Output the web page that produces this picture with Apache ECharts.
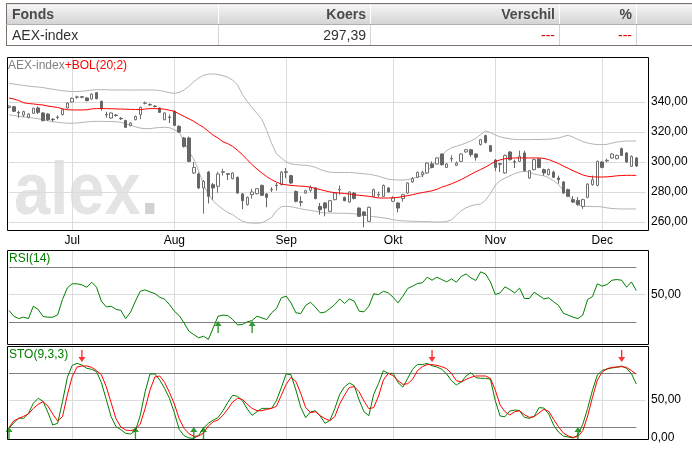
<!DOCTYPE html>
<html>
<head>
<meta charset="utf-8">
<title>AEX-index</title>
<script src="https://cdn.jsdelivr.net/npm/echarts@6/dist/echarts.min.js"></script>
<style>
  html, body { margin: 0; padding: 0; width: 692px; height: 450px; overflow: hidden; background: #fff; }
  #chart { position: absolute; left: 0; top: 0; width: 692px; height: 450px; }
  #koers { position: absolute; left: 6px; top: 3px; width: 740px; border-collapse: collapse; table-layout: fixed;
           font-family: 'Liberation Sans Narrow', 'Liberation Sans', Arial, sans-serif; font-size: 14px; z-index: 2; }
  #koers th, #koers td { height: 20px; padding: 0 4px; text-align: right; white-space: nowrap; overflow: hidden; }
  #koers th { background: linear-gradient(#f6f6f6, #d3d3d3); color: #4a4a4a; font-weight: bold;
              border-left: 1px solid #fff; border-top: 1px solid #7d726b; border-bottom: 1px solid #b5aea9; }
  #koers td { color: #333; border-left: 1px solid #d4d4d4; border-bottom: 1px solid #7d726b; }
  #koers .l { text-align: left; padding-left: 5px; border-left: 1px solid #7d726b; }
  #koers .red { color: #e00000; }
</style>
</head>
<body>
<div id="chart"></div>
<table id="koers">
  <colgroup><col style="width:212px"><col style="width:152px"><col style="width:189px"><col style="width:77px"><col style="width:110px"></colgroup>
  <tr><th class="l">Fonds</th><th>Koers</th><th>Verschil</th><th>%</th><th></th></tr>
  <tr><td class="l">AEX-index</td><td>297,39</td><td class="red">---</td><td class="red">---</td><td></td></tr>
</table>
<script>
// handelsdagen 14 jun 2011 t/m 12 dec 2011 (geen beursfeestdagen in die periode)
const dates = [];
for (let d = new Date(Date.UTC(2011, 5, 14)); d <= new Date(Date.UTC(2011, 11, 12)); d.setUTCDate(d.getUTCDate() + 1)) {
  const wd = d.getUTCDay();
  if (wd !== 0 && wd !== 6) dates.push(d.toISOString().slice(0, 10));
}
const monthNames = ['Jan','Feb','Mrt','Apr','Mei','Jun','Jul','Aug','Sep','Okt','Nov','Dec'];

const open = [336.3,336.9,333.1,331.3,329.8,332.5,336.0,332.7,332.0,328.5,
  329.6,331.6,336.0,340.0,343.1,343.5,342.7,342.0,346.2,340.4,
  331.8,329.3,331.3,329.1,327.6,324.2,328.2,331.6,339.1,338.4,
  337.3,336.0,328.2,330.0,333.8,323.8,316.0,316.0,292.7,292.0,
  282.7,293.3,284.9,283.8,293.1,292.2,288.9,289.8,278.7,271.6,
  278.2,278.9,284.4,278.7,281.4,284.2,284.9,293.5,290.9,280.4,
  273.5,279.3,281.1,282.7,270.4,272.7,267.1,274.9,281.4,276.4,
  273.3,279.3,269.3,266.7,260.4,277.1,278.0,277.1,282.7,273.8,
  272.7,275.6,279.3,286.7,289.8,291.6,292.7,298.7,298.7,305.3,
  296.4,302.0,297.8,300.4,306.7,308.2,305.3,311.6,317.6,310.9,
  301.3,298.9,292.7,306.7,300.2,300.4,306.0,289.3,294.9,302.0,
  294.9,291.6,293.3,289.3,286.7,281.6,274.9,274.4,270.4,276.4,
  284.9,284.4,300.0,300.7,302.7,302.2,308.9,306.0,297.1,302.7];
const close = [337.3,333.8,332.7,333.6,332.0,335.8,333.1,327.6,328.2,328.2,
  330.0,334.9,339.3,342.4,343.4,343.2,340.9,345.3,342.2,335.6,
  331.5,332.7,331.0,328.8,323.1,326.0,330.4,336.4,339.4,338.1,
  337.0,333.1,332.7,329.7,324.4,320.0,310.4,300.4,296.4,282.7,
  287.1,277.1,282.7,292.0,293.5,291.8,292.7,279.3,274.2,276.4,
  280.0,282.2,277.8,276.4,281.8,284.6,293.3,293.1,286.0,273.8,
  273.1,280.9,283.1,275.6,268.2,269.3,274.2,279.3,281.8,274.2,
  280.0,275.6,263.8,264.4,269.8,281.6,278.4,284.4,280.0,276.0,
  269.3,278.2,286.0,288.9,293.1,293.1,299.3,296.4,302.7,298.2,
  298.7,302.4,299.3,305.3,308.2,304.9,303.1,314.9,313.1,307.1,
  296.4,298.5,304.4,301.6,299.8,303.8,294.2,294.2,301.6,296.4,
  292.7,294.9,289.8,288.2,279.3,277.1,273.3,271.6,274.9,285.3,
  288.2,300.4,296.4,301.1,305.3,304.4,304.4,300.0,303.8,297.39];
const low = [335.8,333.3,329.5,330.0,329.0,332.0,332.0,327.0,327.4,327.0,
  328.4,331.0,335.6,339.6,342.2,342.5,340.4,341.6,341.8,334.3,
  329.6,328.9,330.2,328.0,322.7,323.8,327.8,328.5,338.4,337.4,
  336.4,332.7,327.8,326.0,324.0,319.3,309.6,299.8,292.0,282.0,
  265.6,272.4,274.9,279.5,291.0,288.0,288.4,278.9,268.5,271.0,
  275.6,278.4,277.3,269.8,280.0,280.9,284.4,289.3,285.5,273.1,
  270.4,278.8,279.8,275.1,264.9,263.8,266.6,274.4,278.2,273.8,
  272.9,275.1,263.3,256.4,260.0,276.6,276.4,276.6,279.5,273.3,
  266.4,273.5,278.8,286.2,289.3,289.8,292.2,295.8,298.2,297.6,
  296.0,300.0,297.3,300.0,306.2,303.5,300.9,311.0,312.4,306.6,
  294.0,293.3,292.2,301.0,296.0,300.0,293.6,288.9,294.4,295.8,
  290.9,291.0,289.3,285.6,278.8,276.6,272.7,270.8,268.7,275.8,
  284.2,283.8,295.8,299.8,302.2,301.8,304.0,299.5,296.7,296.7];
const high = [337.8,337.4,334.2,334.2,332.5,336.2,337.1,333.2,332.5,329.3,
  331.0,335.3,339.8,343.0,344.2,344.0,343.2,345.8,346.7,341.0,
  333.5,333.1,332.0,330.0,328.2,326.5,331.0,337.0,340.3,339.0,
  338.0,336.4,333.1,331.6,334.4,324.4,316.7,317.0,300.0,293.0,
  288.0,294.0,286.0,293.5,295.5,292.6,293.3,290.3,279.3,277.0,
  282.2,282.7,285.0,279.2,283.3,286.0,294.0,296.0,291.5,281.0,
  277.1,281.4,284.4,283.3,272.7,273.3,274.7,279.8,284.4,276.9,
  280.6,280.0,269.8,267.2,270.3,282.2,280.2,285.0,283.2,277.1,
  273.2,278.7,286.5,290.0,293.6,294.2,299.8,300.4,303.2,305.8,
  299.3,304.4,300.4,305.8,308.7,308.7,305.8,315.4,318.2,311.4,
  302.0,299.3,305.0,307.3,301.6,307.6,307.6,294.7,302.2,302.6,
  295.6,295.6,294.2,290.9,287.3,282.2,277.3,276.6,275.5,285.8,
  291.0,301.0,300.6,302.2,306.0,304.9,309.6,306.7,304.4,303.2];

const bolMid = [342.7,342.0,341.0,339.5,339.0,338.7,338.3,338.0,337.3,336.8,
  336.4,335.5,334.8,334.7,334.7,334.7,334.8,335.4,335.6,335.6,
  335.6,335.5,335.4,335.3,335.2,335.1,335.0,334.9,335.3,335.6,
  335.6,335.5,335.2,334.5,333.8,332.0,330.4,328.8,327.1,325.0,
  323.1,320.5,317.8,316.0,313.5,312.2,310.4,307.8,304.9,301.5,
  298.2,295.3,292.7,290.3,288.2,286.6,285.3,284.8,284.4,284.1,
  283.9,283.7,283.2,282.4,281.6,280.8,280.0,279.6,279.3,279.0,
  278.7,278.2,277.8,277.5,277.1,276.6,276.0,276.0,276.0,276.1,
  276.4,277.0,277.6,278.2,279.0,279.6,280.2,280.8,281.8,283.2,
  284.3,285.5,286.8,288.3,290.0,291.8,293.5,295.0,296.6,298.5,
  300.4,301.4,302.2,302.5,302.7,302.7,302.7,302.7,302.7,302.7,
  302.4,301.6,300.3,299.0,297.3,295.8,294.2,292.8,291.4,290.5,
  290.1,290.0,290.0,290.1,290.4,290.8,291.0,291.1,291.1,291.1];
const bolUp = [352.4,352.0,351.5,351.0,350.6,350.2,350.0,349.6,349.0,348.5,
  348.0,347.5,347.2,347.0,347.0,347.2,347.5,348.0,348.2,348.2,
  348.2,348.0,348.0,348.0,348.0,348.0,348.0,348.0,348.0,348.0,
  348.0,347.6,347.0,346.2,345.8,346.5,348.0,350.5,353.5,356.0,
  357.8,358.6,358.7,358.3,357.5,356.5,354.5,351.5,345.0,340.3,
  336.3,332.4,328.5,321.0,312.5,305.5,302.7,300.0,298.7,298.3,
  298.0,297.8,297.3,296.5,295.0,294.0,293.2,293.0,293.0,293.0,
  293.0,292.8,292.5,292.2,291.8,291.3,290.5,289.5,288.5,288.2,
  288.0,288.0,288.3,289.0,290.0,290.8,293.5,297.5,301.5,304.5,
  307.5,309.5,310.5,311.5,312.7,314.0,315.8,318.3,320.8,319.6,
  318.0,316.8,316.0,315.5,315.0,314.9,314.9,314.9,315.0,315.0,
  315.1,315.2,315.6,316.0,317.0,317.8,316.6,315.0,313.6,312.7,
  312.0,311.6,311.6,311.8,312.6,313.3,313.7,314.0,314.0,314.0];
const bolLow = [331.5,331.0,330.5,330.0,329.8,329.3,328.8,328.3,327.5,326.9,
  326.5,326.1,325.9,325.8,326.0,326.3,326.7,327.0,327.1,327.1,
  327.0,327.0,326.8,326.5,325.5,324.5,323.5,322.6,322.2,322.3,
  322.7,323.0,323.1,322.9,321.5,320.0,313.5,307.0,302.0,294.0,
  285.0,278.5,274.0,271.0,268.5,266.3,265.0,262.5,260.5,259.5,
  259.3,259.2,259.5,261.0,263.0,267.5,270.2,270.5,270.2,269.5,
  268.8,268.2,267.7,267.2,266.5,266.0,266.0,265.9,265.8,265.8,
  265.7,265.5,265.0,264.6,264.0,263.6,263.2,262.7,262.3,261.5,
  261.0,260.8,260.6,260.5,260.4,260.3,260.2,260.1,260.0,260.0,
  260.3,261.5,264.5,267.5,269.5,270.8,271.5,272.0,274.5,279.0,
  284.5,287.5,289.3,290.8,292.3,293.3,293.8,293.2,292.0,291.3,
  290.8,289.5,287.5,285.0,281.0,278.0,274.0,271.5,270.5,270.4,
  270.3,270.3,270.0,269.4,269.0,268.8,268.7,268.7,268.7,268.7];

const rsi = [38.4,34.2,32.5,33.5,32.5,41.5,39.1,34.0,33.5,33.5,
  35.2,46.4,54.8,57.8,57.8,57.0,55.3,59.0,55.3,45.2,
  41.0,41.5,39.3,38.4,32.5,37.2,45.2,52.4,53.4,51.9,
  50.7,48.0,46.6,42.7,37.9,34.7,29.4,23.3,20.9,18.5,
  19.7,17.3,25.8,34.2,35.0,34.7,31.8,27.9,28.2,30.1,
  31.1,34.2,33.0,31.8,36.7,39.8,47.6,48.8,43.9,36.7,
  36.2,42.0,44.4,40.8,36.7,37.2,39.8,42.7,46.8,43.5,
  46.8,45.2,37.9,37.4,41.5,50.5,50.0,52.4,51.2,48.0,
  43.9,48.8,54.4,56.1,58.0,58.5,62.6,60.4,62.6,60.9,
  59.2,61.4,59.0,63.1,65.0,62.1,60.2,66.5,65.0,59.2,
  50.0,51.2,55.6,53.6,51.2,54.6,47.1,47.1,51.7,49.3,
  46.8,47.6,44.7,42.2,36.4,35.0,33.5,32.5,35.0,46.4,
  48.5,57.8,56.1,57.3,60.4,60.9,60.4,55.3,59.2,52.9];

const stoK = [18.5,24.8,30.0,29.6,35.2,46.3,51.9,48.5,36.3,22.2,
  24.1,48.1,75.2,88.5,90.7,88.9,85.2,84.1,81.5,69.3,
  50.7,31.5,20.4,17.0,13.0,12.2,15.9,33.0,59.3,78.9,
  78.9,72.2,63.0,51.9,35.9,17.4,10.4,7.8,7.4,10.7,
  18.9,24.1,27.8,30.4,38.1,47.4,55.2,54.1,49.3,40.0,
  33.0,37.0,40.7,40.7,40.7,49.3,63.7,78.9,78.1,61.1,
  41.9,30.4,36.7,38.1,32.2,24.1,27.4,40.4,56.3,64.6,
  68.9,65.9,50.0,37.0,32.6,56.3,68.5,82.6,79.6,79.6,
  69.3,64.4,74.1,84.1,89.6,89.3,90.7,88.1,86.7,84.1,
  78.9,71.5,66.7,70.0,76.7,80.4,74.8,74.1,74.1,73.0,
  49.3,32.2,31.5,37.8,38.9,38.1,30.7,29.6,31.9,41.5,
  41.1,34.4,22.2,14.4,10.0,8.9,7.8,11.1,23.0,40.7,
  61.1,77.8,83.0,84.4,85.6,86.3,87.8,85.2,79.3,67.8];
const stoD = [19.6,27.0,29.3,31.9,34.4,40.7,45.2,48.1,43.3,34.4,
  26.7,31.5,55.6,75.9,86.7,87.8,87.8,86.3,82.6,78.1,
  64.8,47.0,29.3,20.0,16.7,15.9,17.4,23.3,40.7,61.1,
  75.6,76.7,69.6,58.5,45.6,29.3,18.5,12.6,9.6,10.0,
  13.3,21.1,25.9,27.8,33.0,40.0,47.8,51.9,50.7,45.2,
  40.7,38.1,38.1,39.6,40.7,43.0,55.2,67.4,75.2,70.7,
  57.4,41.9,35.9,37.0,32.6,29.3,27.0,31.5,45.6,55.5,
  64.0,64.8,59.3,48.9,40.4,41.5,54.4,72.2,79.6,77.0,
  71.5,67.4,68.1,73.0,82.6,87.0,89.3,89.3,88.5,87.0,
  84.8,79.6,71.5,70.0,73.0,75.2,76.7,76.7,76.7,74.1,
  61.1,44.4,37.0,33.3,37.0,38.1,33.7,30.7,31.5,35.6,
  39.6,37.4,28.5,20.4,13.3,10.0,8.5,9.3,15.9,32.2,
  53.0,72.2,81.1,84.8,86.3,86.7,87.0,86.3,82.6,78.9];

// signaalpijlen (dagindex)
const rsiBuy = [43, 50];
const stoBuy = [0, 26, 38, 40, 117];
const stoSell = [15, 87, 126];

const priceTicks = [260, 280, 300, 320, 340];
const rsiLevels = [30, 70];
const stoLevels = [20, 80];

const font = "'Liberation Sans', Arial, sans-serif";
const gridCol = '#dcdcdc';
const levelCol = '#808080';
const green = '#008000';
const red = '#ff0000';

const categories = dates.concat(['', '']);
const last = dates.length - 1;
const isMonthStart = (idx) => idx > 0 && idx <= last && dates[idx].slice(5, 7) !== dates[idx - 1].slice(5, 7);
const nl = (v) => v.toFixed(2).replace('.', ',');

const ohlc = dates.map((d, i) => [open[i], close[i], low[i], high[i]]);

const upArrow = 'path://M3.5,0L7,5L4.2,5L4.2,12L2.8,12L2.8,5L0,5Z';
const downArrow = 'path://M2.8,0L4.2,0L4.2,7L7,7L3.5,12L0,7L2.8,7Z';

function xAxisFor(gi, labels) {
  return {
    type: 'category', gridIndex: gi, data: categories, boundaryGap: false,
    axisLine: { show: false }, axisTick: { show: false },
    axisLabel: {
      show: labels, interval: (idx) => isMonthStart(idx), margin: 5,
      color: '#000', fontSize: 12, fontFamily: font,
      formatter: (v) => v ? monthNames[+v.slice(5, 7) - 1] : ''
    },
    splitLine: { show: true, interval: (idx) => isMonthStart(idx), lineStyle: { color: gridCol, width: 1 } }
  };
}

function levelLines(levels, mid) {
  const data = [{ yAxis: mid, lineStyle: { color: gridCol }, label: { show: true } }];
  levels.forEach(v => data.push([{ coord: [dates[0], v] }, { coord: [dates[last], v] }]));
  return {
    silent: true, symbol: ['none', 'none'], z: 1, animation: false,
    lineStyle: { color: levelCol, width: 1, type: 'solid' },
    label: { show: false, position: 'end', distance: 5, color: '#000', fontSize: 12, fontFamily: font,
             formatter: (p) => nl(p.value) },
    data: data
  };
}

function lineSeries(gi, data, color, extra) {
  return Object.assign({
    type: 'line', xAxisIndex: gi, yAxisIndex: gi, data: data, symbol: 'none', showSymbol: false,
    lineStyle: { color: color, width: 1 }, itemStyle: { color: color }, z: 2, silent: true
  }, extra || {});
}

const chart = echarts.init(document.getElementById('chart'));
chart.setOption({
  animation: false,
  backgroundColor: '#fff',
  grid: [
    { left: 9, width: 637, top: 57, height: 173 },
    { left: 9, width: 637, top: 250, height: 94 },
    { left: 9, width: 637, top: 347, height: 93 }
  ],
  xAxis: [xAxisFor(0, true), xAxisFor(1, false), xAxisFor(2, false)],
  yAxis: [
    { type: 'value', gridIndex: 0, min: 254.667, max: 370, show: false },
    { type: 'value', gridIndex: 1, min: 14, max: 82.4, show: false },
    { type: 'value', gridIndex: 2, min: 5.56, max: 108.9, show: false }
  ],
  graphic: [
    { type: 'text', x: 14, y: 194, scaleX: 0.88, z: -1, silent: true,
      style: { text: '{a|alex}{b|.}', font: 'bold 74px "Liberation Sans"', verticalAlign: 'middle', textVerticalAlign: 'middle',
               rich: { a: { fill: '#e4e4e4', font: 'bold 74px "Liberation Sans"' },
                       b: { fill: '#d2d2d2', font: 'bold 74px "Liberation Sans"' } } } },
    { type: 'text', x: 8, y: 66, z: 20, silent: true,
      style: { text: '{a|AEX-index}{b|+BOL(20;2)}', font: '12px "Liberation Sans"', verticalAlign: 'middle', textVerticalAlign: 'middle',
               rich: { a: { fill: '#808080', font: '12px "Liberation Sans"' }, b: { fill: red, font: '12px "Liberation Sans"' } } } },
    { type: 'text', x: 9, y: 259, z: 20, silent: true,
      style: { text: 'RSI(14)', fill: green, font: '12px "Liberation Sans"', verticalAlign: 'middle', textVerticalAlign: 'middle' } },
    { type: 'text', x: 9, y: 355, z: 20, silent: true,
      style: { text: 'STO(9,3,3)', fill: green, font: '12px "Liberation Sans"', verticalAlign: 'middle', textVerticalAlign: 'middle' } },
    { type: 'text', x: 651, y: 438, z: 20, silent: true,
      style: { text: '0,00', fill: '#000', font: '12px "Liberation Sans"', verticalAlign: 'middle', textVerticalAlign: 'middle' } },
    { type: 'rect', z: 30, silent: true, shape: { x: 7.5, y: 57.5, width: 641, height: 173 }, style: { fill: 'none', stroke: '#000', lineWidth: 1 } },
    { type: 'rect', z: 30, silent: true, shape: { x: 7.5, y: 250.5, width: 641, height: 94 }, style: { fill: 'none', stroke: '#000', lineWidth: 1 } },
    { type: 'rect', z: 30, silent: true, shape: { x: 7.5, y: 346.5, width: 641, height: 93 }, style: { fill: 'none', stroke: '#000', lineWidth: 1 } }
  ],
  series: [
    lineSeries(0, bolUp, '#b4b4b4'),
    lineSeries(0, bolLow, '#b4b4b4', {
      markLine: {
        silent: true, symbol: ['none', 'none'], z: 1, animation: false,
        lineStyle: { color: gridCol, width: 1, type: 'solid' },
        label: { show: true, position: 'end', distance: 5, color: '#000', fontSize: 12, fontFamily: font,
                 formatter: (p) => nl(p.value) },
        data: priceTicks.map(v => ({ yAxis: v }))
      }
    }),
    {
      type: 'candlestick', xAxisIndex: 0, yAxisIndex: 0, data: ohlc, barWidth: 3, z: 3, silent: true,
      itemStyle: { color: '#ffffff', color0: '#666666', borderColor: '#707070', borderColor0: '#666666', borderWidth: 1 }
    },
    lineSeries(0, bolMid, red, { z: 4 }),
    lineSeries(1, rsi, green, { markLine: levelLines(rsiLevels, 50) }),
    {
      type: 'scatter', xAxisIndex: 1, yAxisIndex: 1, symbol: upArrow, symbolSize: [7, 12], symbolOffset: [0, 5],
      itemStyle: { color: green }, silent: true, z: 5,
      data: rsiBuy.map(i => [dates[i], 30])
    },
    lineSeries(2, stoK, green, { markLine: levelLines(stoLevels, 50) }),
    lineSeries(2, stoD, red),
    {
      type: 'scatter', xAxisIndex: 2, yAxisIndex: 2, symbol: upArrow, symbolSize: [7, 12], symbolOffset: [0, 6],
      itemStyle: { color: green }, silent: true, z: 5,
      data: stoBuy.map(i => [dates[i], 20])
    },
    {
      type: 'scatter', xAxisIndex: 2, yAxisIndex: 2, symbol: downArrow, symbolSize: [7, 12], symbolOffset: [0, -17],
      itemStyle: { color: red }, silent: true, z: 5,
      data: stoSell.map(i => [dates[i], 80])
    }
  ]
});
</script>
</body>
</html>
